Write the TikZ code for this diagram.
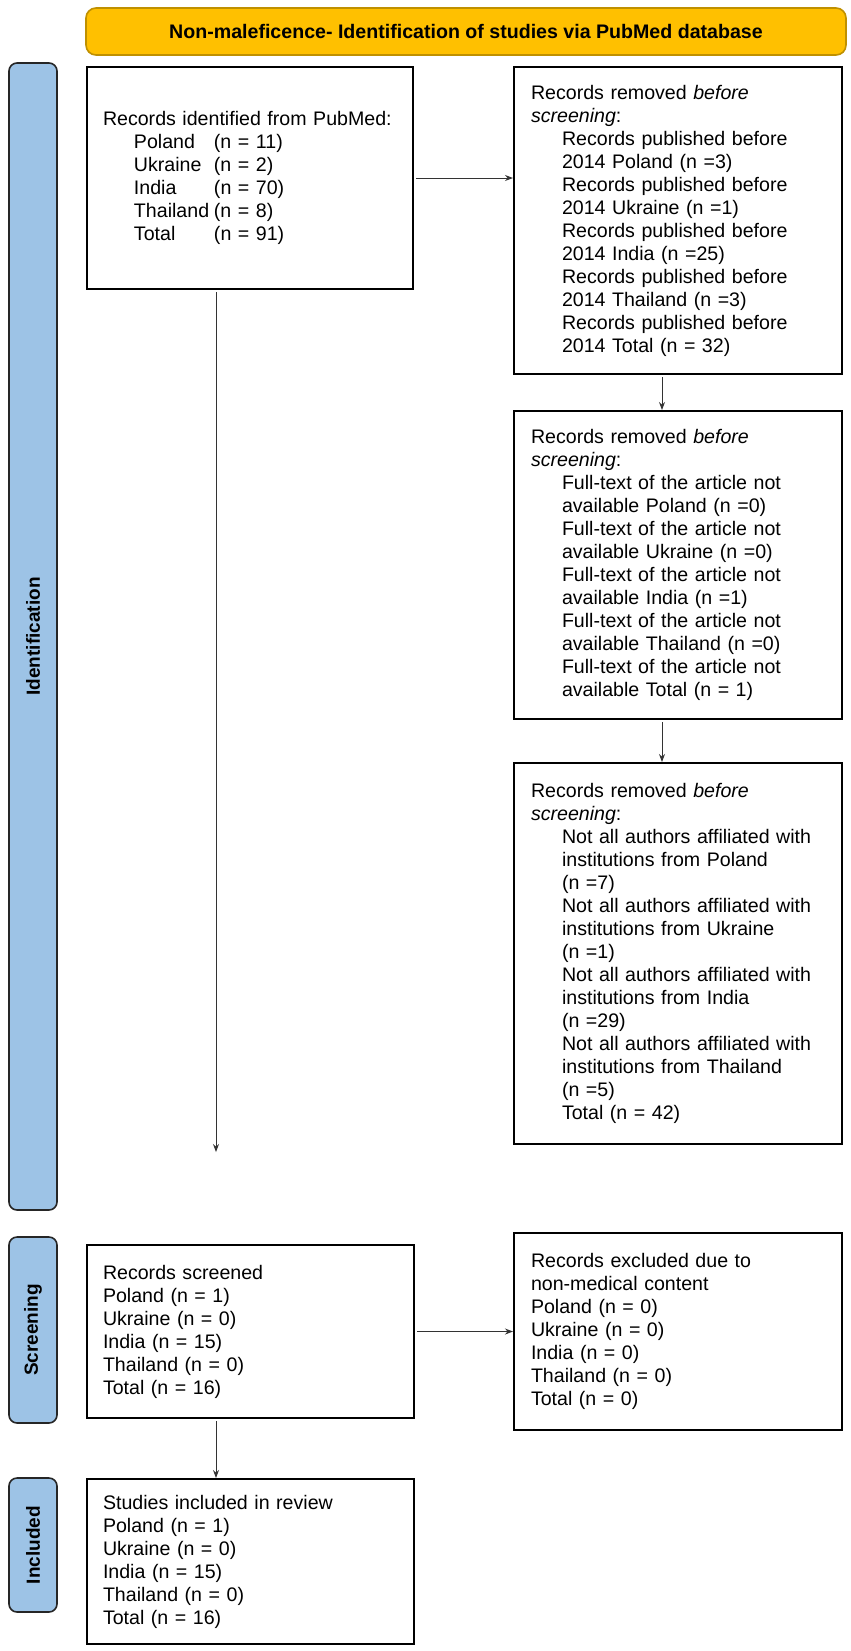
\documentclass[tikz,border=0pt]{standalone}
\usepackage{fontspec}
\setmainfont{Liberation Sans}
\usetikzlibrary{arrows.meta}

\definecolor{headfill}{RGB}{255,192,0}
\definecolor{headdraw}{RGB}{191,144,0}
\definecolor{phasefill}{RGB}{157,195,230}

\newcommand{\ind}{\hspace*{15.5pt}}
\newcommand{\cty}[1]{\makebox[40pt][l]{#1}}

\tikzset{
    box/.style 2 args={draw, line width=1pt, anchor=north west, align=left,
        inner xsep=8pt, inner ysep=0pt, text width=#1, minimum height=#2,
        font=\fontsize{9.8}{11.5}\selectfont},
    head/.style={draw=headdraw, fill=headfill, line width=0.8pt, rounded corners=5pt,
        minimum width=380pt, minimum height=23.5pt, font=\bfseries\fontsize{9.8}{11.5}\selectfont},
    phase/.style={draw=black!85, fill=phasefill, line width=0.8pt, rounded corners=4pt,
        rotate=90, minimum height=24pt, font=\bfseries\fontsize{9.5}{11}\selectfont},
    arr/.style={-{Stealth[length=4pt,width=3pt]}, line width=0.5pt, black!80, shorten <=1pt},
}

\begin{document}
\begin{tikzpicture}[x=0.5pt,y=-0.5pt]
    \useasboundingbox (0,0) rectangle (851,1651);

    % title and phases
    \node[head] (title) at (466,31.5) {Non-maleficence- Identification of studies via PubMed database};
    \node[phase, minimum width=573.5pt] (idbar) at (33,636.5) {Identification};
    \node[phase, minimum width=93pt] (scrbar) at (33,1330) {Screening};
    \node[phase, minimum width=67pt] (incbar) at (33,1545) {Included};

    % identification
    \node[box={147pt}{111pt}] (found) at (86,66) {
        Records identified from PubMed:\\
        \ind\cty{Poland}(n = 11)\\
        \ind\cty{Ukraine}(n = 2)\\
        \ind\cty{India}(n = 70)\\
        \ind\cty{Thailand}(n = 8)\\
        \ind\cty{Total}(n = 91)};
    \node[box={147pt}{153.5pt}, inner xsep=8.5pt] (before) at (513,66) {
        Records removed \textit{before}\\
        \textit{screening}:\\
        \ind Records published before\\
        \ind 2014 Poland (n =3)\\
        \ind Records published before\\
        \ind 2014 Ukraine (n =1)\\
        \ind Records published before\\
        \ind 2014 India (n =25)\\
        \ind Records published before\\
        \ind 2014 Thailand (n =3)\\
        \ind Records published before\\
        \ind 2014 Total (n = 32)};
    \node[box={147pt}{154pt}, inner xsep=8.5pt] (fulltext) at (513,410) {
        Records removed \textit{before}\\
        \textit{screening}:\\
        \ind Full-text of the article not\\
        \ind available Poland (n =0)\\
        \ind Full-text of the article not\\
        \ind available Ukraine (n =0)\\
        \ind Full-text of the article not\\
        \ind available India (n =1)\\
        \ind Full-text of the article not\\
        \ind available Thailand (n =0)\\
        \ind Full-text of the article not\\
        \ind available Total (n = 1)};
    \node[box={147pt}{190.5pt}, inner xsep=8.5pt] (authors) at (513,762) {
        Records removed \textit{before}\\
        \textit{screening}:\\
        \ind Not all authors affiliated with\\
        \ind institutions from Poland\\
        \ind (n =7)\\
        \ind Not all authors affiliated with\\
        \ind institutions from Ukraine\\
        \ind (n =1)\\
        \ind Not all authors affiliated with\\
        \ind institutions from India\\
        \ind (n =29)\\
        \ind Not all authors affiliated with\\
        \ind institutions from Thailand\\
        \ind (n =5)\\
        \ind Total (n = 42)};

    % screening and inclusion
    \node[box={147.5pt}{86.5pt}] (screened) at (86,1244) {
        Records screened\\
        Poland (n = 1)\\
        Ukraine (n = 0)\\
        India (n = 15)\\
        Thailand (n = 0)\\
        Total (n = 16)};
    \node[box={147pt}{98.5pt}, inner xsep=8.5pt] (excluded) at (513,1232) {
        Records excluded due to\\
        non-medical content\\
        Poland (n = 0)\\
        Ukraine (n = 0)\\
        India (n = 0)\\
        Thailand (n = 0)\\
        Total (n = 0)};
    \node[box={147.5pt}{82.5pt}] (included) at (86,1478) {
        Studies included in review\\
        Poland (n = 1)\\
        Ukraine (n = 0)\\
        India (n = 15)\\
        Thailand (n = 0)\\
        Total (n = 16)};

    % connectors
    \coordinate (leftcol) at (216,0);
    \coordinate (rightcol) at (662,0);
    \coordinate (idend) at (216,1152);
    \draw[arr] (found.east) -- (before.west |- found.east);
    \draw[arr] (before.south -| rightcol) -- (fulltext.north -| rightcol);
    \draw[arr] (fulltext.south -| rightcol) -- (authors.north -| rightcol);
    \draw[arr] (found.south -| leftcol) -- (idend);
    \draw[arr] (screened.east) -- (excluded.west |- screened.east);
    \draw[arr] (screened.south -| leftcol) -- (included.north -| leftcol);
\end{tikzpicture}
\end{document}
